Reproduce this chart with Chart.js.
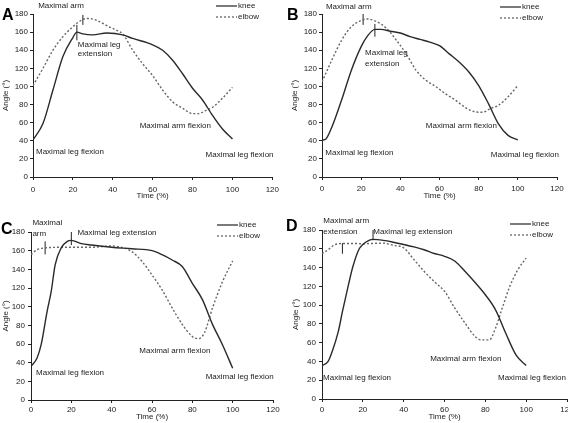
<!DOCTYPE html>
<html>
<head>
<meta charset="utf-8">
<script src="https://cdn.jsdelivr.net/npm/chart.js@4.4.0/dist/chart.umd.min.js"></script>
<style>
body { margin: 0; width: 568px; height: 423px; overflow: hidden; background: #fff; position: relative; }
.panel { position: absolute; }
</style>
</head>
<body>
<div class="panel" style="left:0;top:0;width:284px;height:211px"><canvas id="cA"></canvas></div>
<div class="panel" style="left:284px;top:0;width:284px;height:211px"><canvas id="cB"></canvas></div>
<div class="panel" style="left:0;top:211px;width:284px;height:212px"><canvas id="cC"></canvas></div>
<div class="panel" style="left:284px;top:211px;width:300px;height:212px"><canvas id="cD"></canvas></div>
<script>
"use strict";

const xTicks = [0, 20, 40, 60, 80, 100, 120];
const yTicks = [0, 20, 40, 60, 80, 100, 120, 140, 160, 180];

// panel A
const kneeTimeA = [0, 5, 10, 15, 20, 22, 25, 30, 37, 45, 50, 60, 65, 70, 75, 80, 85, 90, 95, 100];
const kneeA = [41, 59, 96, 133, 154, 160, 158, 157, 159, 157, 153, 146, 140, 129, 114, 98, 85, 68, 53, 42];
const elbowTimeA = [0, 5, 10, 15, 20, 25, 28, 32, 38, 42, 45, 50, 55, 60, 65, 70, 75, 80, 83, 87, 90, 95, 100];
const elbowA = [101, 120, 140, 155, 166, 174, 175, 173, 166, 162, 158, 140, 125, 112, 96, 83, 76, 70, 70, 74, 77, 87, 99];
const markersA = [[25, 168, 179], [22, 151, 168]];
const notesA = [
    ["Maximal arm", 2.6, 189],
    ["Maximal leg", 22.5, 146],
    ["extension", 22.5, 136],
    ["Maximal arm flexion", 53.5, 57],
    ["Maximal leg flexion", 1.5, 28],
    ["Maximal leg flexion", 86.5, 24]
];

// panel B
const kneeTimeB = [0, 2, 5, 10, 15, 20, 23, 27, 30, 35, 40, 45, 50, 55, 60, 65, 70, 75, 80, 85, 90, 95, 100];
const kneeB = [40.6, 42, 55, 85, 118, 144, 155, 163, 163, 161, 159, 155, 152, 149, 145, 136, 127, 116, 101, 81, 59, 46, 41];
const elbowTimeB = [0, 5, 10, 15, 20, 23, 28, 33, 38, 43, 48, 53, 58, 63, 68, 73, 78, 82, 86, 90, 95, 100];
const elbowB = [105, 129, 151, 166, 173, 174.5, 171.5, 164, 151, 136, 118, 107, 100, 92, 85, 77, 72, 71.5, 75.6, 79, 88.5, 101];
const markersB = [[21, 168, 182], [27, 155, 169]];
const notesB = [
    ["Maximal arm", 2, 188],
    ["Maximal leg", 22, 137],
    ["extension", 22, 125.5],
    ["Maximal arm flexion", 53, 57],
    ["Maximal leg flexion", 1.7, 27],
    ["Maximal leg flexion", 86.2, 24]
];

// panel C
const kneeTimeC = [0, 3, 5, 8, 10, 12, 15, 18, 20, 25, 30, 40, 50, 60, 65, 70, 75, 80, 85, 90, 95, 100];
const kneeC = [36, 45, 59, 95, 116, 145, 163, 170, 171, 167.5, 166, 163.6, 162, 160, 155.7, 150, 143, 125, 107.5, 81, 59, 34];
const elbowTimeC = [0, 3, 7, 15, 25, 30, 40, 45, 50, 55, 60, 65, 70, 75, 80, 83, 86, 90, 95, 100];
const elbowC = [155.7, 161, 163, 163.6, 163.6, 163.6, 165, 163.6, 159, 148.6, 134, 118, 98.6, 81, 68, 65.7, 72, 98.6, 127, 149];
const markersC = [[7, 156, 170], [20, 166, 181]];
const notesC = [
    ["Maximal", 0.7, 189.5],
    ["arm", 0.7, 178],
    ["Maximal leg extension", 23, 179],
    ["Maximal arm flexion", 53.7, 52.4],
    ["Maximal leg flexion", 2.5, 29.2],
    ["Maximal leg flexion", 86.6, 24.9]
];

// panel D
const kneeTimeD = [0, 3, 5, 8, 10, 13, 15, 18, 20, 23, 25, 30, 35, 40, 45, 50, 55, 60, 65, 70, 75, 80, 85, 90, 95, 100];
const kneeD = [35.6, 40, 50.6, 72, 93, 122, 140, 159, 164.6, 169, 170, 169, 167, 164.6, 162, 159, 155, 152, 147, 136, 124, 111, 95, 70, 47, 35.6];
const elbowTimeD = [0, 3, 6, 10, 15, 20, 25, 30, 35, 40, 45, 50, 55, 60, 65, 70, 75, 78, 82, 85, 88, 92, 96, 100];
const elbowD = [154.7, 159, 164, 165.7, 165.7, 165.4, 165.7, 166, 163.6, 161, 148.6, 136, 125, 114.8, 97, 81, 66.6, 63, 63, 75.5, 95, 120, 138, 150];
const markersD = [[10, 154.7, 166], [25, 169, 182]];
const notesD = [
    ["Maximal arm", 0.65, 189.6],
    ["extension", 0.65, 178.2],
    ["Maximal leg extension", 25.1, 178.2],
    ["Maximal arm flexion", 53, 43],
    ["Maximal leg flexion", 0.5, 22.8],
    ["Maximal leg flexion", 86.2, 22.8]
];

const FONT = "'Liberation Sans', Arial, sans-serif";
const INK = "#222";

const panels = [
    { id: "cA", letter: "A", kt: kneeTimeA, k: kneeA, et: elbowTimeA, e: elbowA, marks: markersA, notes: notesA,
      yW: 33, top: 14, right: 11, xH: 34, yTitlePad: 1.2, xTitlePad: 10.5, xTickPad: 5, yTickPad: 2,
      legend: [216, 6], letterAt: [2, 20] },
    { id: "cB", letter: "B", kt: kneeTimeB, k: kneeB, et: elbowTimeB, e: elbowB, marks: markersB, notes: notesB,
      yW: 38, top: 14, right: 11, xH: 34, yTitlePad: 5.9, xTitlePad: 10.2, xTickPad: 4, yTickPad: 2,
      legend: [216, 7], letterAt: [3, 20] },
    { id: "cC", letter: "C", kt: kneeTimeC, k: kneeC, et: elbowTimeC, e: elbowC, marks: markersC, notes: notesC,
      yW: 31, top: 21, right: 11, xH: 23, yTitlePad: 1.2, xTitlePad: 1.2, xTickPad: 2, yTickPad: 3,
      legend: [217, 14], letterAt: [1, 23] },
    { id: "cD", letter: "D", kt: kneeTimeD, k: kneeD, et: elbowTimeD, e: elbowD, marks: markersD, notes: notesD,
      yW: 38, top: 19, right: 17, xH: 24, yTitlePad: 6.9, xTitlePad: 1.2, xTickPad: 3, yTickPad: 3,
      legend: [226, 13], letterAt: [2, 20] }
];

const decorPlugin = {
    id: "decor",
    afterDraw(chart) {
        let p = chart.options.plugins.decor;
        let ctx = chart.ctx;
        let xs = chart.scales.x, ys = chart.scales.y;
        ctx.save();
        // panel letter
        ctx.fillStyle = "#000";
        ctx.font = "bold 16px " + FONT;
        ctx.textBaseline = "alphabetic";
        ctx.textAlign = "left";
        ctx.fillText(p.letter, p.letterAt[0], p.letterAt[1]);
        // annotations
        ctx.fillStyle = INK;
        ctx.font = "8px " + FONT;
        ctx.textBaseline = "middle";
        p.notes.forEach(n => {
            ctx.fillText(n[0], xs.getPixelForValue(n[1]), ys.getPixelForValue(n[2]));
        });
        // legend
        let lx = p.legend[0], ly = p.legend[1];
        ctx.lineWidth = 1.3;
        ctx.strokeStyle = "#333";
        ctx.beginPath(); ctx.moveTo(lx, ly); ctx.lineTo(lx + 21, ly); ctx.stroke();
        ctx.fillText("knee", lx + 22, ly);
        ctx.strokeStyle = "#666";
        ctx.setLineDash([2, 2]);
        ctx.beginPath(); ctx.moveTo(lx, ly + 11); ctx.lineTo(lx + 21, ly + 11); ctx.stroke();
        ctx.setLineDash([]);
        ctx.fillText("elbow", lx + 22, ly + 11);
        ctx.restore();
    }
};

function toPoints(xs, ys) {
    return xs.map((x, i) => ({ x: x, y: ys[i] }));
}

panels.forEach(p => {
    let datasets = [
        {
            data: toPoints(p.kt, p.k),
            borderColor: "#2a2a2a",
            borderWidth: 1.4,
            cubicInterpolationMode: "monotone",
            pointRadius: 0
        },
        {
            data: toPoints(p.et, p.e),
            borderColor: "#666",
            borderWidth: 1.4,
            borderDash: [2, 2],
            cubicInterpolationMode: "monotone",
            pointRadius: 0
        }
    ];
    p.marks.forEach(m => {
        datasets.push({
            data: [{ x: m[0], y: m[1] }, { x: m[0], y: m[2] }],
            borderColor: "#222",
            borderWidth: 1,
            pointRadius: 0
        });
    });

    new Chart(document.getElementById(p.id), {
        type: "line",
        data: { datasets: datasets },
        plugins: [decorPlugin],
        options: {
            responsive: true,
            maintainAspectRatio: false,
            animation: false,
            layout: { padding: { left: 0, top: p.top, right: p.right, bottom: 0 } },
            plugins: {
                legend: { display: false },
                tooltip: { enabled: false },
                decor: p
            },
            scales: {
                x: {
                    type: "linear",
                    min: 0, max: 120,
                    afterBuildTicks: s => { s.ticks = xTicks.map(v => ({ value: v })); },
                    afterFit: s => { s.height = p.xH; },
                    border: { color: "#222", width: 1 },
                    grid: { drawOnChartArea: false, tickLength: 3, color: "#222" },
                    ticks: { color: INK, font: { family: FONT, size: 8 }, padding: p.xTickPad, maxRotation: 0 },
                    title: { display: true, text: "Time (%)", color: INK, font: { family: FONT, size: 8 },
                             padding: { top: 0, bottom: p.xTitlePad } }
                },
                y: {
                    min: 0, max: 180,
                    afterBuildTicks: s => { s.ticks = yTicks.map(v => ({ value: v })); },
                    afterFit: s => { s.width = p.yW; },
                    border: { color: "#222", width: 1 },
                    grid: { drawOnChartArea: false, tickLength: 3, color: "#222" },
                    ticks: { color: INK, font: { family: FONT, size: 8 }, padding: p.yTickPad },
                    title: { display: true, text: "Angle (°)", color: INK, font: { family: FONT, size: 8 },
                             padding: { top: p.yTitlePad, bottom: 0 } }
                }
            }
        }
    });
});
</script>
</body>
</html>
